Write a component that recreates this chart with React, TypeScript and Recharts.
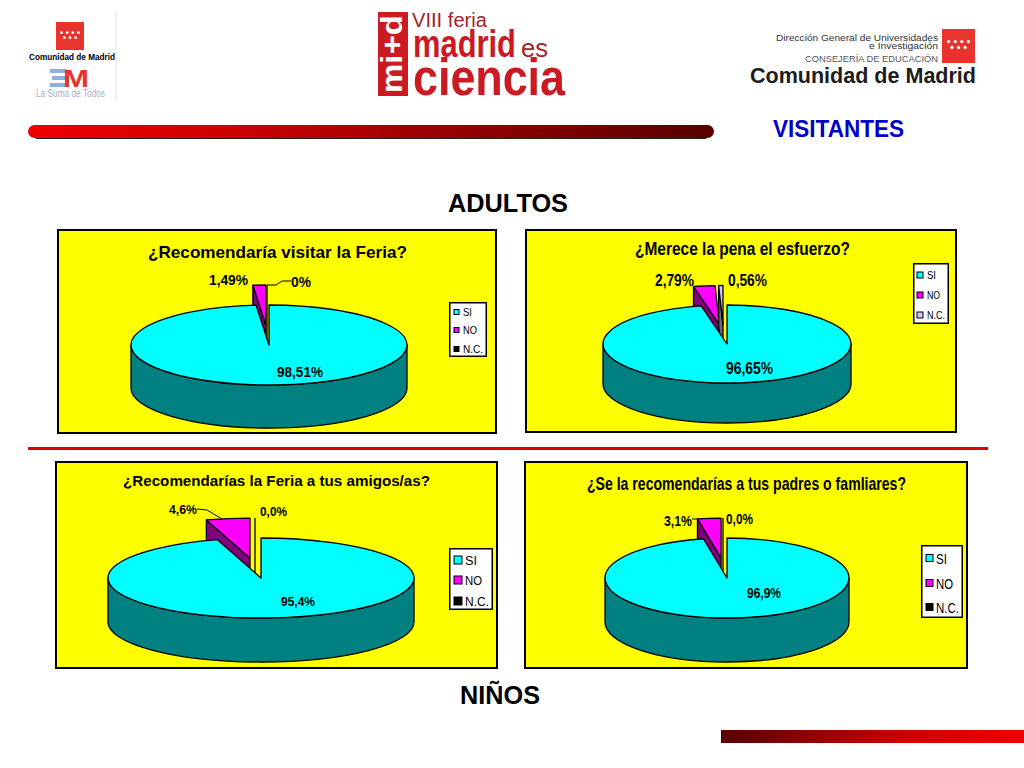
import React from "react";
import { PieChart, Pie, Legend } from "recharts";

const categories = ["SI", "NO", "N.C."];

const feriaValues = [98.51, 1.49, 0];
const esfuerzoValues = [96.65, 2.79, 0.56];
const amigosValues = [95.4, 4.6, 0];
const padresValues = [96.9, 3.1, 0];

const feriaLabels = ["98,51%", "1,49%", "0%"];
const esfuerzoLabels = ["96,65%", "2,79%", "0,56%"];
const amigosLabels = ["95,4%", "4,6%", "0,0%"];
const padresLabels = ["96,9%", "3,1%", "0,0%"];

const topColors = ["#00ffff", "#ff00ff", "#000000"];
const wallColors = ["#008080", "#800080", "#000000"];
const esfuerzoTop = ["#00ffff", "#ff00ff", "#ccccff"];
const esfuerzoWall = ["#008080", "#800080", "#66667f"];

const FONT = '"Liberation Sans", Arial, sans-serif';

const panels = [
  {
    box: [58, 230, 438, 203],
    title: { text: "¿Recomendaría visitar la Feria?", x: 148, y: 252, w: 259, size: 17 },
    values: feriaValues,
    labels: feriaLabels,
    tops: topColors,
    walls: wallColors,
    pie: { cx: 269, cy: 345, rx: 138, ry: 40, depth: 43, ncShift: -2 },
    labelPos: [
      { x: 277, y: 371, w: 46, size: 15 },
      { x: 209, y: 279, w: 39, size: 15 },
      { x: 291, y: 281, w: 20, size: 15 },
    ],
    leaders: ["267,285 276,285 282,281 291,281"],
    legend: { x: 449, y: 302, w: 38, h: 55, rows: [312, 330, 349], sw: 5, swX: 454, textX: 463, size: 11, widths: [9, 14, 20] },
  },
  {
    box: [526, 230, 430, 202],
    title: { text: "¿Merece la pena el esfuerzo?", x: 635, y: 249, w: 215, size: 18 },
    values: esfuerzoValues,
    labels: esfuerzoLabels,
    tops: esfuerzoTop,
    walls: esfuerzoWall,
    pie: { cx: 727, cy: 344, rx: 124, ry: 39, depth: 40, ncShift: -4 },
    labelPos: [
      { x: 726, y: 368, w: 47, size: 16 },
      { x: 655, y: 280, w: 39, size: 16 },
      { x: 728, y: 280, w: 39, size: 16 },
    ],
    leaders: [],
    legend: { x: 913, y: 263, w: 36, h: 61, rows: [275, 295, 315], sw: 6, swX: 917, textX: 927, size: 11, widths: [9, 13, 18] },
  },
  {
    box: [56, 462, 441, 206],
    title: { text: "¿Recomendarías la Feria a tus amigos/as?", x: 123, y: 481, w: 307, size: 14 },
    values: amigosValues,
    labels: amigosLabels,
    tops: topColors,
    walls: wallColors,
    pie: { cx: 261, cy: 578, rx: 153, ry: 40, depth: 44, ncShift: -6 },
    labelPos: [
      { x: 281, y: 602, w: 34, size: 12 },
      { x: 169, y: 510, w: 28, size: 12 },
      { x: 260, y: 512, w: 27, size: 12 },
    ],
    leaders: ["197,509 207,510 222,519"],
    legend: { x: 449, y: 548, w: 44, h: 62, rows: [560, 580, 601], sw: 8, swX: 454, textX: 465, size: 13, widths: [12, 17, 24] },
  },
  {
    box: [525, 462, 442, 206],
    title: { text: "¿Se la recomendarías a tus padres o famliares?", x: 587, y: 484, w: 319, size: 18 },
    values: padresValues,
    labels: padresLabels,
    tops: topColors,
    walls: wallColors,
    pie: { cx: 727, cy: 578, rx: 122, ry: 40, depth: 44, ncShift: -4 },
    labelPos: [
      { x: 747, y: 592, w: 34, size: 15 },
      { x: 664, y: 520, w: 28, size: 15 },
      { x: 726, y: 518, w: 27, size: 15 },
    ],
    leaders: ["692,519 698,519"],
    legend: { x: 921, y: 545, w: 42, h: 73, rows: [558, 583, 607], sw: 7, swX: 926, textX: 936, size: 15, widths: [11, 17, 23] },
  },
];

const EXPLODE = 0.5;
const rad = (a) => (a * Math.PI) / 180;

// slice drawn on an ellipse from the angles the Pie hands to its shape
const wedgePath = (cx, cy, rx, ry, a0, a1) => {
  const x0 = cx + rx * Math.cos(rad(a0));
  const y0 = cy - ry * Math.sin(rad(a0));
  const x1 = cx + rx * Math.cos(rad(a1));
  const y1 = cy - ry * Math.sin(rad(a1));
  const large = Math.abs(a0 - a1) > 180 ? 1 : 0;
  return `M${cx},${cy}L${x0},${y0}A${rx},${ry} 0 ${large} 1 ${x1},${y1}Z`;
};

const MainSlice = (props, p, tops, walls) => {
  if (props.index !== 0) return <g />;
  const cx = props.cx;
  const cy = props.cy;
  const rx = props.outerRadius;
  const { ry, depth } = p;
  const wall = `M${cx - rx},${cy}A${rx},${ry} 0 0 0 ${cx + rx},${cy}L${cx + rx},${cy + depth}A${rx},${ry} 0 0 1 ${cx - rx},${cy + depth}Z`;
  return (
    <g stroke="#000" strokeWidth={1.3} strokeLinejoin="round">
      <path d={wall} fill={walls[0]} />
      <path d={wedgePath(cx, cy, rx, ry, props.startAngle, props.endAngle)} fill={tops[0]} />
    </g>
  );
};

const ExplodedSlice = (props, p, tops, walls) => {
  const i = props.index;
  if (i === 0) return <g />;
  const rx = props.outerRadius;
  const { ry, depth, ncShift } = p;
  const mid = (props.startAngle + props.endAngle) / 2;
  const shift = i === 2 ? ncShift : rx * EXPLODE * Math.cos(rad(mid));
  const cx = props.cx + shift;
  const cy = props.cy - ry * EXPLODE * Math.sin(rad(mid));
  const a0 = props.startAngle;
  const x0 = cx + rx * Math.cos(rad(a0));
  const y0 = cy - ry * Math.sin(rad(a0));
  const wall = `M${cx},${cy}L${x0},${y0}L${x0},${y0 + depth}L${cx},${cy + depth}Z`;
  if (props.endAngle === a0) {
    return <path d={`M${x0},${y0}L${x0},${cy + depth}`} stroke="#000" strokeWidth={1.3} fill="none" />;
  }
  return (
    <g stroke="#000" strokeWidth={1.3} strokeLinejoin="round">
      <path d={wall} fill={walls[i]} />
      <path d={wedgePath(cx, cy, rx, ry, a0, props.endAngle)} fill={tops[i]} />
    </g>
  );
};

const LegendBox = (props, lg) => {
  const payload = props.payload || [];
  // the two Pie layers report the same names, keep one row per category
  const rows = categories.map((name) => payload.find((item) => item.value === name)).filter(Boolean);
  return (
    <svg width={lg.w} height={lg.h} style={{ display: "block" }}>
      <rect x={0.75} y={0.75} width={lg.w - 1.5} height={lg.h - 1.5} fill="#fff" stroke="#000" strokeWidth={1.5} />
      {rows.map((item, i) => (
        <g key={item.value}>
          <rect
            x={lg.swX - lg.x}
            y={lg.rows[i] - lg.y - lg.sw / 2}
            width={lg.sw}
            height={lg.sw}
            fill={item.color}
            stroke="#000"
            strokeWidth={1}
          />
          <text
            x={lg.textX - lg.x}
            y={lg.rows[i] - lg.y}
            dominantBaseline="central"
            textLength={lg.widths[i]}
            lengthAdjust="spacingAndGlyphs"
            fontFamily={FONT}
            fontSize={lg.size}
            fill="#000"
          >
            {item.value}
          </text>
        </g>
      ))}
    </svg>
  );
};

const Panel = ({ cfg }) => {
  const [bx, by, bw, bh] = cfg.box;
  const { pie: p, legend: lg, title: t } = cfg;
  const data = categories.map((name, i) => ({ name, value: cfg.values[i], fill: cfg.tops[i] }));
  const renderLabel = (props) => {
    const pos = cfg.labelPos[props.index];
    return (
      <text
        key={props.index}
        x={pos.x - bx}
        y={pos.y - by}
        dominantBaseline="central"
        textLength={pos.w}
        lengthAdjust="spacingAndGlyphs"
        fontFamily={FONT}
        fontWeight="bold"
        fontSize={pos.size}
        fill="#000"
        stroke="none"
      >
        {cfg.labels[props.index]}
      </text>
    );
  };
  return (
    <div
      style={{
        position: "absolute",
        left: bx,
        top: by,
        width: bw,
        height: bh,
        background: "#ffff00",
        outline: "2px solid #000",
        outlineOffset: -1,
      }}
    >
      <PieChart width={bw} height={bh} margin={{ top: 0, right: 0, bottom: 0, left: 0 }}>
        <Pie
          data={data}
          dataKey="value"
          nameKey="name"
          cx={p.cx - bx}
          cy={p.cy - by}
          outerRadius={p.rx}
          startAngle={90}
          endAngle={-270}
          legendType="none"
          label={false}
          labelLine={false}
          isAnimationActive={false}
          shape={(props) => ExplodedSlice(props, p, cfg.tops, cfg.walls)}
        />
        <Pie
          data={data}
          dataKey="value"
          nameKey="name"
          cx={p.cx - bx}
          cy={p.cy - by}
          outerRadius={p.rx}
          startAngle={90}
          endAngle={-270}
          legendType="square"
          label={renderLabel}
          labelLine={false}
          isAnimationActive={false}
          shape={(props) => MainSlice(props, p, cfg.tops, cfg.walls)}
        />
        <Legend
          verticalAlign="bottom"
          itemSorter={null}
          wrapperStyle={{ position: "absolute", left: lg.x - bx, top: lg.y - by, bottom: "auto", width: lg.w, height: lg.h }}
          content={(props) => LegendBox(props, lg)}
        />
        <text
          x={t.x - bx}
          y={t.y - by}
          dominantBaseline="central"
          textLength={t.w}
          lengthAdjust="spacingAndGlyphs"
          fontFamily={FONT}
          fontWeight="bold"
          fontSize={t.size}
          fill="#000"
        >
          {t.text}
        </text>
        {cfg.leaders.map((pts) => (
          <polyline
            key={pts}
            points={pts
              .split(" ")
              .map((s) => {
                const [x, y] = s.split(",").map(Number);
                return `${x - bx},${y - by}`;
              })
              .join(" ")}
            fill="none"
            stroke="#000"
            strokeWidth={1}
          />
        ))}
      </PieChart>
    </div>
  );
};

const Dots = ({ x, y, w }) => {
  const cols = [0.2, 0.4, 0.6, 0.8];
  return (
    <g fill="#fff">
      {cols.map((c) => (
        <circle key={c} cx={x + w * c} cy={y + w * 0.38} r={w * 0.05} />
      ))}
      {cols.slice(0, 3).map((c) => (
        <circle key={c} cx={x + w * (c + 0.1)} cy={y + w * 0.56} r={w * 0.05} />
      ))}
    </g>
  );
};

const Txt = ({ x, y, w, size, weight, fill, anchor, children }) => (
  <text
    x={x}
    y={y}
    textLength={w}
    lengthAdjust={w ? "spacingAndGlyphs" : undefined}
    fontSize={size}
    fontWeight={weight || "normal"}
    fill={fill || "#000"}
    fontFamily={FONT}
    textAnchor={anchor || "start"}
  >
    {children}
  </text>
);

const Header = () => (
  <svg width={1024} height={768} style={{ position: "absolute", left: 0, top: 0 }}>
    <defs>
      <linearGradient id="barTop" x1="0" x2="1" y1="0" y2="0">
        <stop offset="0" stopColor="#ee0000" />
        <stop offset="0.3" stopColor="#cc0000" />
        <stop offset="1" stopColor="#560000" />
      </linearGradient>
      <linearGradient id="barBottom" x1="0" x2="1" y1="0" y2="0">
        <stop offset="0" stopColor="#560000" />
        <stop offset="0.6" stopColor="#cc0000" />
        <stop offset="1" stopColor="#ee0000" />
      </linearGradient>
    </defs>

    {/* left logo */}
    <rect x={56} y={22} width={28} height={28} fill="#e8342c" />
    <Dots x={56} y={22} w={28} />
    <Txt x={29} y={60} w={86} size={9} weight="bold">Comunidad de Madrid</Txt>
    <line x1={116} y1={10} x2={116} y2={100} stroke="#e4e4e4" />
    <rect x={50} y={69} width={17} height={4} fill="#8fb0d8" />
    <rect x={52} y={76} width={15} height={4} fill="#8fb0d8" />
    <rect x={50} y={83} width={17} height={4} fill="#8fb0d8" />
    <Txt x={63} y={87} w={26} size={24} weight="bold" fill="#e8342c">M</Txt>
    <Txt x={36} y={97} w={69} size={11} fill="#9db0cc">La Suma de Todos</Txt>

    {/* centre logo */}
    <rect x={378} y={12} width={30} height={84} fill="#cc1a22" />
    <g transform="translate(402,54) rotate(-90)">
      <Txt x={0} y={0} w={78} size={30} weight="bold" fill="#fff" anchor="middle">mi+d</Txt>
    </g>
    <Txt x={412} y={27} w={75} size={20} fill="#a5232a">VIII feria</Txt>
    <Txt x={413} y={57} w={103} size={38} weight="bold" fill="#cc1a22">madrid</Txt>
    <Txt x={521} y={57} w={27} size={26} fill="#a5232a">es</Txt>
    <Txt x={413} y={95} w={152} size={52} weight="bold" fill="#cc1a22">ciencia</Txt>

    {/* right logo */}
    <Txt x={776} y={41} w={162} size={8.5} fill="#333">Dirección General de Universidades</Txt>
    <Txt x={869} y={49} w={69} size={8.5} fill="#333">e Investigación</Txt>
    <Txt x={805} y={62} w={133} size={8.5} fill="#555">CONSEJERÍA DE EDUCACIÓN</Txt>
    <Txt x={750} y={83} w={226} size={22} weight="bold" fill="#1c1c1c">Comunidad de Madrid</Txt>
    <rect x={942} y={29} width={33} height={34} fill="#e8342c" />
    <Dots x={942} y={29} w={33} />

    {/* bars and headings */}
    <rect x={36} y={130} width={670} height={9} fill="#222" />
    <rect x={28} y={125} width={686} height={13} rx={6.5} fill="url(#barTop)" />
    <Txt x={773} y={137} w={131} size={23} weight="bold" fill="#0000cc">VISITANTES</Txt>
    <Txt x={448} y={212} w={120} size={25} weight="bold">ADULTOS</Txt>
    <rect x={28} y={447} width={960} height={3} fill="#e60000" />
    <Txt x={460} y={704} w={80} size={25} weight="bold">NIÑOS</Txt>
    <rect x={721} y={730} width={303} height={13} fill="url(#barBottom)" />
  </svg>
);

export default function App() {
  return (
    <div style={{ position: "absolute", left: 0, top: 0, width: 1024, height: 768, background: "#fff", overflow: "hidden" }}>
      <Header />
      {panels.map((cfg) => (
        <Panel key={cfg.title.text} cfg={cfg} />
      ))}
    </div>
  );
}
